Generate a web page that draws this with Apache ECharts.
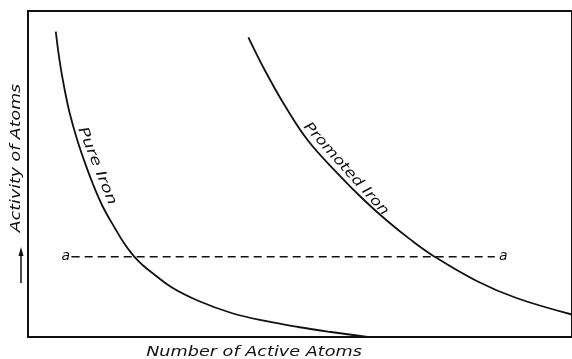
<!DOCTYPE html>
<html>
<head>
<meta charset="utf-8">
<script src="https://cdn.jsdelivr.net/npm/echarts@6/dist/echarts.min.js"></script>
<style>
html,body{margin:0;padding:0;background:#fff;}
#chart{width:572px;height:359px;}
</style>
</head>
<body>
<div id="chart"></div>
<script>
// Data (arbitrary units: x 0-100 number of active atoms, y 0-100 activity)
const pureIronX = [5.11, 5.84, 6.75, 7.66, 8.94, 10.22, 11.86, 13.69, 16.06, 17.70, 19.53, 21.17, 22.63, 26.46, 31.39, 37.41, 43.61, 49.64, 55.66, 62.41];
const pureIronY = [93.65, 84.36, 75.77, 68.71, 61.04, 54.60, 47.24, 40.18, 33.13, 28.68, 24.63, 21.93, 19.94, 15.18, 11.04, 7.36, 4.91, 3.07, 1.53, 0];
const promotedX = [40.51, 43.61, 47.26, 51.46, 56.93, 61.86, 66.06, 70.26, 74.82, 82.48, 89.78, 100];
const promotedY = [91.93, 81.60, 70.86, 60.28, 50.15, 41.87, 35.58, 29.94, 24.54, 17.18, 11.96, 6.90];
const levelX = [8.03, 85.77];
const levelY = [24.6, 24.6];
const levelLabels = ['a', 'a'];
const curveNames = ['Pure Iron', 'Promoted Iron'];
const xTitle = 'Number of Active Atoms';
const yTitle = 'Activity of Atoms';

const zip = (xs, ys) => xs.map((x, i) => [x, ys[i]]);
const ink = '#111';
const font = '"DejaVu Sans", sans-serif';

const chart = echarts.init(document.getElementById('chart'), null, {renderer: 'canvas'});
chart.setOption({
  animation: false,
  backgroundColor: '#fff',
  grid: {left: 28, right: -4, top: 11, bottom: 22, show: true, borderColor: ink, borderWidth: 2, backgroundColor: '#fff'},
  xAxis: {type: 'value', min: 0, max: 100, axisLine: {show: false}, axisTick: {show: false}, axisLabel: {show: false}, splitLine: {show: false}},
  yAxis: {type: 'value', min: 0, max: 100, axisLine: {show: false}, axisTick: {show: false}, axisLabel: {show: false}, splitLine: {show: false}},
  series: [
    {type: 'line', name: curveNames[0], data: zip(pureIronX, pureIronY), smooth: 0.4, showSymbol: false,
     lineStyle: {color: ink, width: 1.8}},
    {type: 'line', name: curveNames[1], data: zip(promotedX, promotedY), smooth: 0.4, showSymbol: false,
     lineStyle: {color: ink, width: 1.8}},
    {type: 'line', name: 'a',
     data: zip(levelX, levelY).map((p, i) => ({value: p, label: {position: i === 0 ? 'left' : 'right', distance: i === 0 ? 1 : 4, formatter: levelLabels[i]}})),
     showSymbol: true, symbol: 'circle', symbolSize: 1,
     itemStyle: {color: ink},
     label: {show: true, color: ink, fontSize: 14, fontStyle: 'italic', fontFamily: 'DejaVu Sans'},
     lineStyle: {color: ink, width: 1.6, type: [8, 5]}}
  ],
  graphic: [
    {type: 'text', x: 97, y: 166, rotation: -1.187, scaleX: 1.3, style: {text: curveNames[0], font: 'italic 14px ' + font, fill: ink, align: 'center', verticalAlign: 'middle'}},
    {type: 'text', x: 346, y: 169, rotation: -0.838, scaleX: 1.2, style: {text: curveNames[1], font: 'italic 14px ' + font, fill: ink, align: 'center', verticalAlign: 'middle'}},
    {type: 'text', x: 254, y: 352, scaleX: 1.26, style: {text: xTitle, font: 'italic 14px ' + font, fill: ink, align: 'center', verticalAlign: 'middle'}},
    {type: 'text', x: 16, y: 158, rotation: Math.PI / 2, scaleX: 1.24, style: {text: yTitle, font: 'italic 14px ' + font, fill: ink, align: 'center', verticalAlign: 'middle'}},
    {type: 'line', shape: {x1: 21, y1: 283, x2: 21, y2: 253}, style: {stroke: ink, lineWidth: 1.5}},
    {type: 'polygon', shape: {points: [[21, 247], [18.5, 256], [23.5, 256]]}, style: {fill: ink}}
  ]
});
</script>
</body>
</html>
